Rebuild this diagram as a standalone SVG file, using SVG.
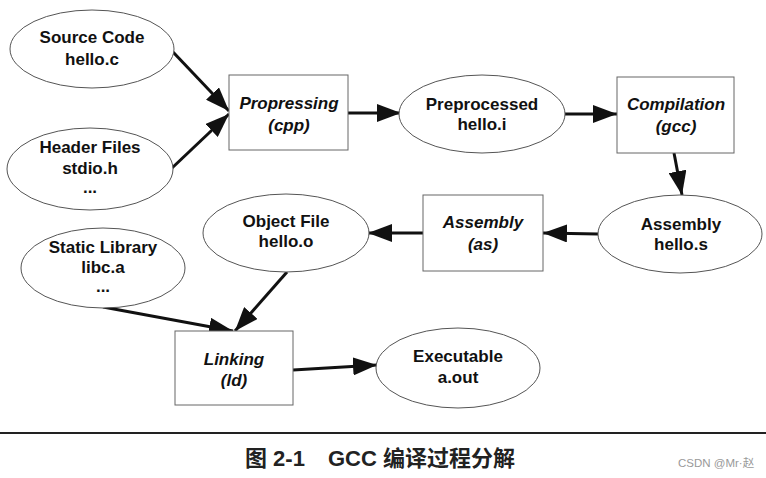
<svg xmlns="http://www.w3.org/2000/svg" width="766" height="478" viewBox="0 0 766 478">
<style>
.ell{fill:#fff;stroke:#555;stroke-width:1}
.box{fill:#fff;stroke:#666;stroke-width:1}
.t{font-family:"Liberation Sans",Arial,sans-serif;font-size:17px;font-weight:bold;fill:#111;text-anchor:middle}
.ti{font-style:italic}
.arr{stroke:#111;stroke-width:3;fill:none;marker-end:url(#ah)}
.cap{font-family:"Liberation Sans","Noto Sans CJK SC",sans-serif;font-size:22px;font-weight:bold;fill:#222}
.wm{font-family:"Liberation Sans","Noto Sans CJK SC",sans-serif;font-size:11.5px;fill:#999}
</style>
<defs>
<marker id="ah" viewBox="0 0 24 18" refX="24" refY="9" markerWidth="24" markerHeight="18" markerUnits="userSpaceOnUse" orient="auto">
<path d="M0,0 L24,9 L0,18 Z" fill="#111"/>
</marker>
</defs>
<rect width="766" height="478" fill="#fff"/>
<g id="connectors">
<line class="arr" x1="173" y1="52" x2="229" y2="111"/>
<line class="arr" x1="172" y1="168" x2="229" y2="114"/>
<line class="arr" x1="348" y1="113" x2="401" y2="113"/>
<line class="arr" x1="565" y1="114" x2="617" y2="114"/>
<line class="arr" x1="674" y1="153" x2="682" y2="195"/>
<line class="arr" x1="598" y1="234" x2="543" y2="233"/>
<line class="arr" x1="423" y1="233" x2="368" y2="233"/>
<line class="arr" x1="287" y1="272" x2="235" y2="331"/>
<line class="arr" x1="103" y1="307" x2="233" y2="331"/>
<line class="arr" x1="293" y1="370" x2="377" y2="365"/>
</g>
<g id="source">
<ellipse class="ell" cx="92" cy="49" rx="82" ry="39"/>
<text class="t" x="92" y="43">Source Code</text>
<text class="t" x="92" y="65">hello.c</text>
</g>
<g id="header">
<ellipse class="ell" cx="90" cy="169" rx="83" ry="41"/>
<text class="t" x="90" y="153">Header Files</text>
<text class="t" x="90" y="174">stdio.h</text>
<text class="t" x="90" y="193">...</text>
</g>
<g id="propressing">
<rect class="box" x="229" y="75" width="119" height="75"/>
<text class="t ti" x="289" y="109">Propressing</text>
<text class="t ti" x="289" y="131">(cpp)</text>
</g>
<g id="preprocessed">
<ellipse class="ell" cx="482" cy="114" rx="83" ry="39"/>
<text class="t" x="482" y="110">Preprocessed</text>
<text class="t" x="482" y="130">hello.i</text>
</g>
<g id="compilation">
<rect class="box" x="617" y="77" width="117" height="76"/>
<text class="t ti" x="676" y="110">Compilation</text>
<text class="t ti" x="676" y="132">(gcc)</text>
</g>
<g id="assembly-s">
<ellipse class="ell" cx="680" cy="234" rx="82" ry="39"/>
<text class="t" x="681" y="230">Assembly</text>
<text class="t" x="681" y="250">hello.s</text>
</g>
<g id="assembly">
<rect class="box" x="423" y="195" width="120" height="76"/>
<text class="t ti" x="483" y="228">Assembly</text>
<text class="t ti" x="483" y="250">(as)</text>
</g>
<g id="object">
<ellipse class="ell" cx="286" cy="233" rx="83" ry="39"/>
<text class="t" x="286" y="227">Object File</text>
<text class="t" x="286" y="247">hello.o</text>
</g>
<g id="static">
<ellipse class="ell" cx="103" cy="268" rx="82" ry="40"/>
<text class="t" x="103" y="253">Static Library</text>
<text class="t" x="103" y="273">libc.a</text>
<text class="t" x="103" y="292">...</text>
</g>
<g id="linking">
<rect class="box" x="175" y="331" width="118" height="74"/>
<text class="t ti" x="234" y="365">Linking</text>
<text class="t ti" x="234" y="386">(ld)</text>
</g>
<g id="executable">
<ellipse class="ell" cx="458" cy="368" rx="82" ry="40"/>
<text class="t" x="458" y="362">Executable</text>
<text class="t" x="458" y="383">a.out</text>
</g>
<line x1="0" y1="433" x2="766" y2="433" stroke="#222" stroke-width="2"/>
<text class="cap" x="245" y="466">图 2-1</text>
<text class="cap" x="328" y="466">GCC 编译过程分解</text>
<text class="wm" x="678" y="467">CSDN @Mr·赵</text>
</svg>
